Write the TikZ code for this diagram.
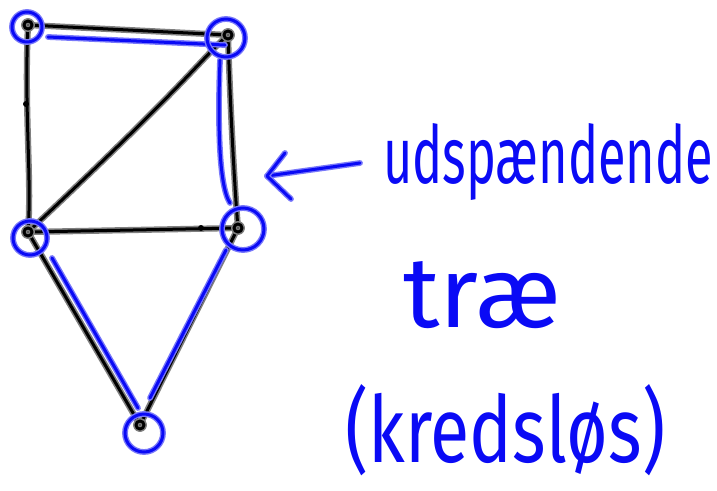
\documentclass[tikz,border=0pt]{standalone}
\usepackage{fontspec}
\setmainfont{Fira Sans}
\usetikzlibrary{calc}
\definecolor{penblue}{RGB}{10,10,245}
\definecolor{haloblue}{RGB}{120,120,250}
\tikzset{
  blackpen/.style={draw=black!50, line width=1.6pt, double=black, double distance=3pt,
    line cap=round, line join=round},
  bluepen/.style={draw=haloblue, line width=1.4pt, double=penblue, double distance=3pt,
    line cap=round, line join=round},
  handtext/.style={text=penblue, inner sep=0pt, anchor=base west},
  dotmark/.style={circle, fill=black, inner sep=0pt, minimum size=6pt}
}
\begin{document}
\begin{tikzpicture}[x=1pt,y=-1pt]
\useasboundingbox (0,0) rectangle (717,490);
% vertices
\coordinate (tl) at (28,25);
\coordinate (tr) at (228,35);
\coordinate (ml) at (28,232);
\coordinate (mr) at (238,228);
\coordinate (b)  at (140,425);
% black edges
\draw[blackpen] (tl) -- (tr);
\draw[blackpen] (tl) .. controls (24,110) and (32,180) .. (ml);
\draw[blackpen] (tr) .. controls (200,60) and (190,80) .. (ml);
\draw[blackpen] (tr) .. controls (230,100) and (234,180) .. (mr);
\draw[blackpen] (ml) -- (mr);
\draw[blackpen] (ml) -- (b);
\draw[blackpen] (mr) -- (b);
% small dots on edges
\node[dotmark] (d1) at (26,104) {};
\node[dotmark] (d2) at (201,228) {};
% vertex scribbles
\foreach \v in {tl,tr,ml,mr,b}{
  \draw[blackpen] (\v) circle (4pt);
}
% blue spanning tree edges
\draw[bluepen] ($(tl)+(20,12)$) -- ($(tr)+(-3,10)$);
\draw[bluepen] ($(tr)+(-8,25)$) .. controls ($(tr)+(-10,80)$) and ($(tr)+(-10,150)$) .. ($(mr)+(-8,-25)$);
\draw[bluepen] ($(ml)+(24,26)$) -- ($(b)+(-2,-17)$);
\draw[bluepen] ($(mr)+(-12,22)$) -- ($(b)+(10,-27)$);
% blue circles
\draw[bluepen] (27,27) circle (15);
\draw[bluepen] (226,38) circle (19);
\draw[bluepen] (30,238) circle (17);
\draw[bluepen] (243,229) circle (21);
\draw[bluepen] (144,433) circle (19);
% arrow
\coordinate (atail) at (360,163);
\coordinate (ahead) at (267,176);
\draw[bluepen] (atail) -- (ahead);
\draw[bluepen] (285,153) -- (ahead) -- (291,199);
% texts
\node[handtext] (t1) at (383,183) {\resizebox{330pt}{60pt}{\fontsize{52}{60}\selectfont udspændende}};
\node[handtext] (t2) at (403,327) {\resizebox{158pt}{66pt}{\fontsize{52}{60}\selectfont træ}};
\node[handtext] (t3) at (345,462) {\resizebox{320pt}{78pt}{\fontsize{52}{60}\selectfont (kredsløs)}};
\end{tikzpicture}
\end{document}
